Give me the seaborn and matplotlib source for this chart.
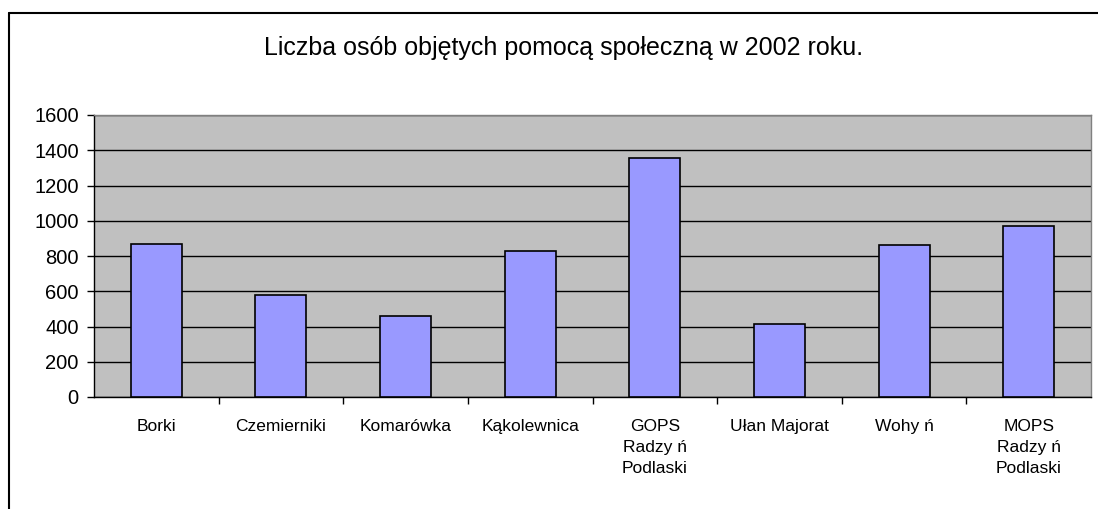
import pandas as pd
import matplotlib
matplotlib.use('Agg')
import matplotlib.pyplot as plt
from matplotlib.lines import Line2D
from matplotlib.ticker import MultipleLocator, FixedLocator
import seaborn as sns

# dane
gminy = ['Borki', 'Czemierniki', 'Komarówka', 'Kąkolewnica',
         'GOPS\nRadzy ń\nPodlaski', 'Ułan Majorat', 'Wohy ń',
         'MOPS\nRadzy ń\nPodlaski']
liczba_osob = [870, 577, 457, 827, 1358, 412, 860, 968]
tytul = 'Liczba osób objętych pomocą społeczną w 2002 roku.'

sns.set_theme(style='ticks')
plt.rcParams['font.family'] = ['Liberation Sans', 'DejaVu Sans']
plt.rcParams['text.color'] = 'black'
plt.rcParams['xtick.labelcolor'] = 'black'
plt.rcParams['ytick.labelcolor'] = 'black'

df = pd.DataFrame({'gmina': gminy, 'liczba': liczba_osob})

fig = plt.figure(figsize=(10.98, 5.09), dpi=100)
fig.patch.set_facecolor('white')
ax = fig.add_axes([94 / 1098, 1 - 397 / 509, (1091 - 94) / 1098, (397 - 115) / 509])

sns.barplot(data=df, x='gmina', y='liczba', color='#9999FF', saturation=1,
            edgecolor='black', linewidth=1.2, width=0.41, ax=ax, zorder=3)

ax.set_facecolor('#C0C0C0')
ax.set_xlim(-0.5, len(gminy) - 0.5)
ax.set_ylim(0, 1600)
ax.yaxis.set_major_locator(MultipleLocator(200))
ax.grid(axis='y', color='black', linewidth=1.0, zorder=0)
ax.set_axisbelow(True)
ax.set_xlabel('')
ax.set_ylabel('')

for s in ['top', 'right']:
    ax.spines[s].set_color('#808080')
    ax.spines[s].set_linewidth(1.0)
for s in ['left', 'bottom']:
    ax.spines[s].set_color('black')
    ax.spines[s].set_linewidth(1.0)

# podpisy osi
ax.tick_params(axis='y', labelsize=14.5, length=5, width=1, color='black', pad=6,
               labelcolor='black')
ax.tick_params(axis='x', which='major', length=0, labelsize=12.5, pad=16, labelcolor='black')
ax.xaxis.set_minor_locator(FixedLocator([i + 0.5 for i in range(len(gminy) - 1)]))
ax.tick_params(axis='x', which='minor', length=5, width=1, color='black', direction='out')
for lab in ax.get_xticklabels():
    lab.set_linespacing(1.5)
    lab.set_verticalalignment('top')

fig.text(0.513, 1 - 48 / 509, tytul, ha='center', va='center', fontsize=18, color='black')

# ramka wykresu
fig.add_artist(Line2D([9 / 1098, 9 / 1098], [0, 1 - 13 / 509], color='black', lw=1.5,
                      transform=fig.transFigure))
fig.add_artist(Line2D([9 / 1098, 1], [1 - 13 / 509, 1 - 13 / 509], color='black', lw=1.5,
                      transform=fig.transFigure))

fig.savefig('out.png', dpi=100)
